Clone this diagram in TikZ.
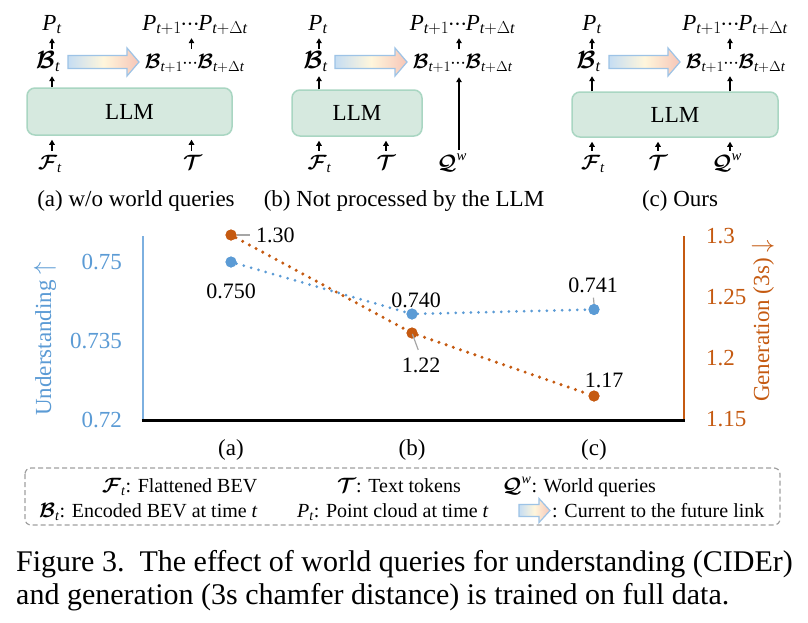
\documentclass[tikz,border=0pt]{standalone}
\usepackage{amsmath}
\usepackage{fontspec}
\usepackage{bm}
\setmainfont{Liberation Serif}
\usetikzlibrary{arrows.meta}
\definecolor{llmfill}{HTML}{D6E9DF}
\definecolor{llmdraw}{HTML}{A9D6C2}
\definecolor{ublue}{HTML}{5B9BD5}
\definecolor{uaxis}{HTML}{7DB0E0}
\definecolor{gorange}{HTML}{C55A11}
\definecolor{leadgray}{HTML}{A6A6A6}
\definecolor{legdash}{HTML}{A0A0A0}
\definecolor{arrblue}{HTML}{9DC3E6}
\definecolor{arrleft}{HTML}{C5DDF3}
\definecolor{arrmid}{HTML}{FFF6DC}
\definecolor{arrright}{HTML}{F6C6B8}
\newcommand\fsz[1]{\fontsize{#1}{#1}\selectfont}
\newcommand\Bc{\bm{\mathcal{B}}}
\newcommand\Fc{\bm{\mathcal{F}}}
\newcommand\Tc{\bm{\mathcal{T}}}
\newcommand\Qc{\bm{\mathcal{Q}}}
\newcommand\tit{\textit{t}}
\newcommand\Pit{\textit{P}}
\newcommand\tdots{\mkern-1mu\mathord{\cdot}\mkern-0.5mu\mathord{\cdot}\mkern-0.5mu\mathord{\cdot}\mkern-1mu}
\newcommand\Pfut{$\Pit_{\tit+1}\tdots\Pit_{\tit+\Delta\tit}$}
\newcommand\Bfut{$\Bc_{\tit+1}\tdots\Bc_{\tit+\Delta\tit}$}
\newcommand\futarrow[7][]{\path[futarr,#1] (#2,#4-#5) -- (#3-#7,#4-#5) -- (#3-#7,#4-#6) -- (#3,#4) -- (#3-#7,#4+#6) -- (#3-#7,#4+#5) -- (#2,#4+#5) -- cycle;}
\tikzset{
  lab/.style={font=\fsz{23}, inner sep=0pt},
  ptop/.style={lab, anchor=base, text height=16pt, text depth=8pt},
  btop/.style={lab, anchor=base, text height=19pt, text depth=8pt},
  bfut/.style={btop, font=\fsz{21}},
  bot/.style={lab, font=\fsz{21}, anchor=base, text height=18pt, text depth=5pt},
  sarr/.style={-{Triangle[width=5.5pt,length=5pt]}, line width=1.1pt, black},
  llm/.style={draw=llmdraw, fill=llmfill, line width=1.5pt, rounded corners=8pt, font=\fsz{23}, inner sep=0pt},
  futarr/.style={draw=arrblue, line width=1.2pt, left color=arrleft, right color=arrright, middle color=arrmid},
  subcap/.style={lab, anchor=base},
  bdot/.style={circle, fill=ublue, minimum size=11pt, inner sep=0pt},
  odot/.style={circle, fill=gorange, minimum size=11pt, inner sep=0pt},
  bdots/.style={ublue, line width=3pt, line cap=round, dash pattern=on 0pt off 7.6pt},
  odots/.style={gorange, line width=3.4pt, line cap=round, dash pattern=on 0pt off 7.6pt},
  lead/.style={leadgray, line width=1.2pt},
  tickl/.style={font=\fsz{23}, inner sep=0pt},
  dlab/.style={font=\fsz{22}, inner sep=0pt, black},
  legtxt/.style={font=\fsz{20}, inner sep=0pt, anchor=base west},
  legbox/.style={draw=legdash, line width=1.2pt, dash pattern=on 5pt off 3pt, rounded corners=6pt},
  captxt/.style={font=\fsz{30}, inner sep=0pt, anchor=base west}
}
\begin{document}
\begin{tikzpicture}[x=1pt,y=-1pt]
\useasboundingbox (0,0) rectangle (808,622);
\fill[white] (0,0) rectangle (808,622);

% ---------- panel (a)
\coordinate (colA1) at (52,0);
\coordinate (colA2) at (191.5,0);
\node[llm, minimum width=205pt, minimum height=47pt] (llmA) at (129.5,111.5) {LLM};
\node[ptop] (PtA) at (52,30) {$\Pit_{\tit}$};
\node[btop] (BtA) at (48,68) {$\Bc_{\tit}$};
\node[ptop] (PfA) at (195,30) {\Pfut};
\node[bfut] (BfA) at (194.5,68) {\Bfut};
\node[bot] (FtA) at (50,169) {$\Fc_{\tit}$};
\node[bot] (TA) at (192.5,169) {$\Tc$};
\node[subcap] (capA) at (136,206) {(a) w/o world queries};
\futarrow{68}{139}{62}{6.5}{14}{12}
\draw[sarr] (llmA.north -| colA1) -- (BtA.south -| colA1);
\draw[sarr] (BtA.north -| colA1) -- (PtA.south -| colA1);
\draw[sarr] (BfA.north -| colA2) -- (PfA.south -| colA2);
\draw[sarr, shorten >=4pt] (FtA.north -| colA1) -- (llmA.south -| colA1);
\draw[sarr, shorten >=4pt] (TA.north -| colA2) -- (llmA.south -| colA2);

% ---------- panel (b)
\coordinate (colB1) at (319,0);
\coordinate (colB2) at (386,0);
\coordinate (colB3) at (459,0);
\node[llm, minimum width=130pt, minimum height=46pt] (llmB) at (357,113) {LLM};
\node[ptop] (PtB) at (318,30) {$\Pit_{\tit}$};
\node[btop] (BtB) at (315.5,68) {$\Bc_{\tit}$};
\node[ptop] (PfB) at (462.5,30) {\Pfut};
\node[bfut] (BfB) at (462.5,68) {\Bfut};
\node[bot] (FtB) at (319.5,169) {$\Fc_{\tit}$};
\node[bot] (TB) at (386,169) {$\Tc$};
\node[bot] (QB) at (452,169) {$\Qc^{\textit{w}}$};
\node[subcap] (capB) at (404,206) {(b) Not processed by the LLM};
\futarrow{335}{407}{62}{6.5}{14}{12}
\draw[sarr] (llmB.north -| colB1) -- (BtB.south -| colB1);
\draw[sarr] (BtB.north -| colB1) -- (PtB.south -| colB1);
\draw[sarr] (BfB.north -| colB3) -- (PfB.south -| colB3);
\draw[sarr, shorten >=4pt] (FtB.north -| colB1) -- (llmB.south -| colB1);
\draw[sarr, shorten >=4pt] (TB.north -| colB2) -- (llmB.south -| colB2);
\draw[sarr, shorten <=1pt, shorten >=1pt] (QB.north -| colB3) -- (BfB.south -| colB3);

% ---------- panel (c)
\coordinate (colC1) at (592,0);
\coordinate (colC2) at (658,0);
\coordinate (colC3) at (730,0);
\node[llm, minimum width=206pt, minimum height=45pt] (llmC) at (675,114.5) {LLM};
\node[ptop] (PtC) at (592,30) {$\Pit_{\tit}$};
\node[btop] (BtC) at (588.5,68) {$\Bc_{\tit}$};
\node[ptop] (PfC) at (735,30) {\Pfut};
\node[bfut] (BfC) at (735.5,68) {\Bfut};
\node[bot] (FtC) at (593,169) {$\Fc_{\tit}$};
\node[bot] (TC) at (658,169) {$\Tc$};
\node[bot] (QC) at (727,169) {$\Qc^{\textit{w}}$};
\node[subcap] (capC) at (680,206) {(c) Ours};
\futarrow{609}{680}{62}{6.5}{14}{12}
\draw[sarr] (llmC.north -| colC1) -- (BtC.south -| colC1);
\draw[sarr] (BtC.north -| colC1) -- (PtC.south -| colC1);
\draw[sarr] (llmC.north -| colC3) -- (BfC.south -| colC3);
\draw[sarr] (BfC.north -| colC3) -- (PfC.south -| colC3);
\draw[sarr, shorten >=4pt] (FtC.north -| colC1) -- (llmC.south -| colC1);
\draw[sarr, shorten >=4pt] (TC.north -| colC2) -- (llmC.south -| colC2);
\draw[sarr, shorten >=4pt] (QC.north -| colC3) -- (llmC.south -| colC3);

% ---------- chart
\coordinate (O) at (143,420);
\coordinate (Ltop) at (143,236);
\coordinate (Xend) at (684,420);
\coordinate (Rtop) at (684,236);
\draw[uaxis, line width=2.6pt] (O) -- (Ltop);
\draw[gorange, line width=2.6pt] (Xend) -- (Rtop);
\draw[black, line width=3pt] ([xshift=-1.3pt]O) -- ([xshift=1.3pt]Xend);

\node[tickl, ublue, anchor=east] at (122,262) {0.75};
\node[tickl, ublue, anchor=east] at (122,341) {0.735};
\node[tickl, ublue, anchor=east] at (122,420) {0.72};
\node[tickl, gorange, anchor=west] at (706,236) {1.3};
\node[tickl, gorange, anchor=west] at (706,297) {1.25};
\node[tickl, gorange, anchor=west] at (706,358) {1.2};
\node[tickl, gorange, anchor=west] at (706,419) {1.15};
\node[tickl, ublue, rotate=90] at (45,339) {Understanding $\uparrow$};
\node[tickl, gorange, rotate=90] at (763,321) {Generation (3s) $\downarrow$};
\node[tickl] at (231,450) {(a)};
\node[tickl] at (412,450) {(b)};
\node[tickl] at (594,450) {(c)};

\node[bdot] (ua) at (231,262) {};
\node[bdot] (ub) at (412,314) {};
\node[bdot] (uc) at (594,309.5) {};
\node[odot] (oa) at (231,235) {};
\node[odot] (ob) at (412,333) {};
\node[odot] (oc) at (594,396) {};
\draw[odots] (oa) -- (ob) -- (oc);
\draw[bdots] (ua) -- (ub) -- (uc);
\node[odot] at (oa) {};
\node[odot] at (ob) {};
\node[odot] at (oc) {};
\node[bdot] at (ua) {};
\node[bdot] at (ub) {};
\node[bdot] at (uc) {};

\node[dlab, anchor=west] (l130) at (256,235) {1.30};
\node[dlab] (l750) at (231,291) {0.750};
\node[dlab] (l740) at (416,300) {0.740};
\node[dlab] (l741) at (593,285) {0.741};
\node[dlab] (l122) at (421,365) {1.22};
\node[dlab] (l117) at (604,380) {1.17};
\draw[lead, shorten >=6pt] (oa.east) -- (l130.west);
\draw[lead, shorten <=5pt] (l741.south) -- (uc.north);
\draw[lead, shorten <=1pt, shorten >=8pt] (ob.center) -- (l122.north);

% ---------- legend
\path[legbox] (25,468) rectangle (780,525);
\node[legtxt] (lgF) at (102,492) {$\Fc_{\tit}$: Flattened BEV};
\node[legtxt] (lgT) at (337,492) {$\Tc$: Text tokens};
\node[legtxt] (lgQ) at (502,492) {$\Qc^{\textit{w}}$: World queries};
\node[legtxt] (lgB) at (39,517) {$\Bc_{\tit}$: Encoded BEV at time \textit{t}};
\node[legtxt] (lgP) at (297,517) {$\Pit_{\tit}$: Point cloud at time \textit{t}};
\futarrow{519}{550}{510.5}{6}{12}{11}
\node[legtxt] (lgL) at (552,517) {: Current to the future link};

% ---------- caption
\node[captxt] (cap1) at (16,571) {Figure 3.\ \ The effect of world queries for understanding (CIDEr)};
\node[captxt] (cap2) at (16,604) {and generation (3s chamfer distance) is trained on full data.};
\end{tikzpicture}
\end{document}
